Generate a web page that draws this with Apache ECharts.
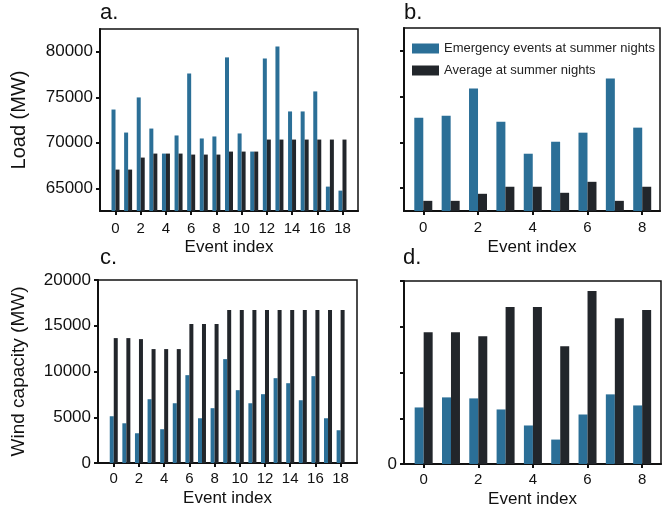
<!DOCTYPE html>
<html><head><meta charset="utf-8">
<script src="https://cdn.jsdelivr.net/npm/echarts@6/dist/echarts.min.js"></script>
<style>html,body{margin:0;padding:0;background:#fff}#c{width:662px;height:510px}</style>
</head><body><div id="c"></div>
<script>
// ---- data ----
const eventsA = [0,1,2,3,4,5,6,7,8,9,10,11,12,13,14,15,16,17,18];
const eventsB = [0,1,2,3,4,5,6,7,8];
const xTicksA = [0,2,4,6,8,10,12,14,16,18];
const xTicksB = [0,2,4,6,8];
const loadTicks = [65000,70000,75000,80000];
const windTicks = [0,5000,10000,15000,20000];
const seriesNames = ['Emergency events at summer nights','Average at summer nights'];

const loadEmergencyA = [73650,71120,74980,71560,68810,70800,77620,70470,70690,79380,71020,69030,79270,80590,73440,73440,75640,65180,64740];
const loadAverageA   = [67050,67050,68370,68810,68810,68810,68700,68700,68700,69030,69030,69030,70350,70350,70350,70350,70350,70350,70350];
const windEmergencyA = [5110,4340,3250,6970,3690,6530,9600,4890,5990,11350,7960,6530,7520,9270,8720,6860,9490,4890,3580];
const windAverageA   = [13650,13650,13540,12450,12450,12450,15180,15180,15180,16720,16720,16720,16720,16720,16720,16720,16720,16720,16720];

const loadEmergencyB = [72700,72920,75880,72260,68760,70070,71060,76970,71610];
const loadAverageB   = [63610,63610,64380,65150,65150,64490,65690,63610,65150];
const windEmergencyB = [6180,7280,7170,5960,4210,2670,5410,7610,6400];
const windAverageB   = [14410,14410,13970,17150,17150,12870,18910,15940,16820];

// ---- style ----
const FONT = '"Liberation Sans", Arial, sans-serif';
const BLUE = '#2b6f97';
const DARK = '#22262b';
const pair = (xs, ys) => xs.map((x, i) => [x, ys[i]]);

function xAxis(gi, min, max, ticks, margin, nameGap) {
  return {
    type: 'value', gridIndex: gi, min: min, max: max,
    name: 'Event index', nameLocation: 'middle', nameGap: nameGap,
    nameTextStyle: {fontFamily: FONT, fontSize: 17, color: '#111'},
    axisLine: {show: true, onZero: false, lineStyle: {color: '#111', width: 2}},
    axisTick: {show: true, length: 4, lineStyle: {color: '#111', width: 2}, customValues: ticks},
    axisLabel: {fontFamily: FONT, fontSize: 15, color: '#111', margin: margin, customValues: ticks},
    splitLine: {show: false}
  };
}
function yAxis(gi, min, max, ticks, name, nameGap, nameSize, labelFn) {
  return {
    type: 'value', gridIndex: gi, min: min, max: max,
    name: name, nameLocation: 'middle', nameGap: nameGap,
    nameTextStyle: {fontFamily: FONT, fontSize: nameSize, color: '#111'},
    axisLine: {show: true, onZero: false, lineStyle: {color: '#111', width: 2}},
    axisTick: {show: true, length: 4, lineStyle: {color: '#111', width: 2}, customValues: ticks},
    axisLabel: {fontFamily: FONT, fontSize: 17, color: '#111', margin: 7, customValues: ticks,
                formatter: labelFn},
    splitLine: {show: false}
  };
}
function bars(name, color, xi, yi, data, w) {
  return {
    type: 'bar', name: name, xAxisIndex: xi, yAxisIndex: yi, data: data,
    barWidth: w, barGap: '0%', clip: true, itemStyle: {color: color}, silent: true
  };
}
const gridStyle = {show: true, borderColor: '#111', borderWidth: 1.5, backgroundColor: '#fff'};
const panelText = {fontFamily: FONT, fontSize: 22, fontWeight: 'normal', color: '#111'};

const option = {
  animation: false,
  backgroundColor: '#fff',
  textStyle: {fontFamily: FONT},
  grid: [
    Object.assign({left: 100, top: 29, width: 258, height: 182}, gridStyle),
    Object.assign({left: 404, top: 28, width: 256, height: 183}, gridStyle),
    Object.assign({left: 98, top: 280, width: 259, height: 183}, gridStyle),
    Object.assign({left: 404, top: 281, width: 257, height: 183}, gridStyle)
  ],
  xAxis: [
    xAxis(0, -1.23, 19.23, xTicksA, 10, 28),
    xAxis(1, -0.705, 8.65, xTicksB, 9, 28),
    xAxis(2, -1.25, 19.3, xTicksA, 8, 27),
    xAxis(3, -0.72, 8.69, xTicksB, 8, 27)
  ],
  yAxis: [
    yAxis(0, 62500, 82500, loadTicks, 'Load (MW)', 71, 20, v => String(v)),
    yAxis(1, 62500, 82500, loadTicks, '', 10, 20, v => ''),
    yAxis(2, 0, 20000, windTicks, 'Wind capacity (MW)', 70, 19, v => String(v)),
    yAxis(3, 0, 20000, windTicks, '', 10, 19, v => (v === 0 ? '0' : ''))
  ],
  legend: {
    data: seriesNames, orient: 'vertical', left: 412, top: 42,
    itemWidth: 27, itemHeight: 10, itemGap: 9,
    textStyle: {fontFamily: FONT, fontSize: 13, color: '#222'},
    icon: 'rect', padding: 0
  },
  title: [
    {text: 'a.', left: 100, top: 2, padding: 0, textStyle: panelText},
    {text: 'b.', left: 404, top: 2, padding: 0, textStyle: panelText},
    {text: 'c.', left: 100, top: 247, padding: 0, textStyle: panelText},
    {text: 'd.', left: 403, top: 247, padding: 0, textStyle: panelText}
  ],
  series: [
    bars(seriesNames[0], BLUE, 0, 0, pair(eventsA, loadEmergencyA), 4),
    bars(seriesNames[1], DARK, 0, 0, pair(eventsA, loadAverageA), 4),
    bars(seriesNames[0], BLUE, 1, 1, pair(eventsB, loadEmergencyB), 9),
    bars(seriesNames[1], DARK, 1, 1, pair(eventsB, loadAverageB), 9),
    bars(seriesNames[0], BLUE, 2, 2, pair(eventsA, windEmergencyA), 4),
    bars(seriesNames[1], DARK, 2, 2, pair(eventsA, windAverageA), 4),
    bars(seriesNames[0], BLUE, 3, 3, pair(eventsB, windEmergencyB), 9),
    bars(seriesNames[1], DARK, 3, 3, pair(eventsB, windAverageB), 9)
  ]
};
const chart = echarts.init(document.getElementById('c'), null, {renderer: 'canvas'});
chart.setOption(option);
</script></body></html>
